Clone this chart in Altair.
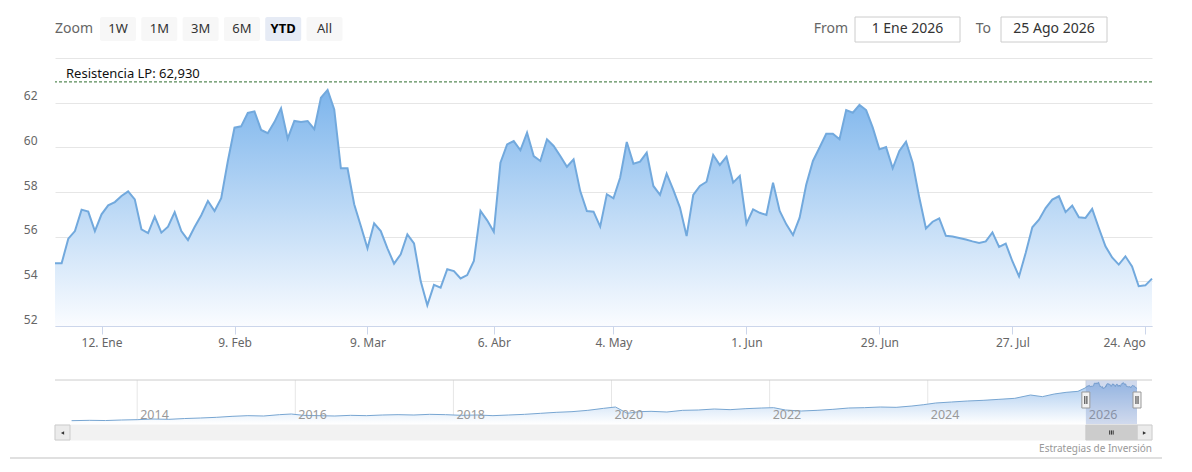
import altair as alt
import pandas as pd

FONT = "Noto Sans"

# ---------------- data ----------------
values = [
    54.81, 54.81, 55.91, 56.25, 57.21, 57.12, 56.25, 57.00, 57.40, 57.55,
    57.82, 58.03, 57.67, 56.33, 56.16, 56.90, 56.18, 56.45, 57.10, 56.25,
    55.85, 56.43, 56.96, 57.60, 57.15, 57.72, 59.39, 60.88, 60.94, 61.54,
    61.61, 60.78, 60.63, 61.13, 61.75, 60.39, 61.18, 61.13, 61.18, 60.81,
    62.22, 62.57, 61.70, 59.06, 59.06, 57.45, 56.48, 55.48, 56.60, 56.25,
    55.48, 54.79, 55.21, 56.10, 55.70, 54.01, 52.93, 53.84, 53.72, 54.54,
    54.46, 54.13, 54.28, 54.91, 57.15, 56.73, 56.22, 59.31, 60.13, 60.28,
    59.87, 60.66, 59.61, 59.39, 60.36, 60.06, 59.61, 59.13, 59.46, 58.04,
    57.15, 57.12, 56.45, 57.90, 57.72, 58.64, 60.24, 59.27, 59.36, 59.76,
    58.27, 57.87, 58.82, 58.09, 57.30, 56.03, 57.87, 58.27, 58.46, 59.66,
    59.21, 59.58, 58.42, 58.72, 56.58, 57.22, 57.07, 56.97, 58.42, 57.15,
    56.55, 56.07, 56.85, 58.34, 59.39, 59.99, 60.61, 60.61, 60.36, 61.67,
    61.55, 61.90, 61.67, 60.88, 59.91, 60.01, 59.06, 59.84, 60.25, 59.31,
    57.75, 56.37, 56.67, 56.82, 56.04, 56.01, 55.94, 55.87, 55.79, 55.72,
    55.79, 56.19, 55.54, 55.69, 54.90, 54.22, 55.27, 56.42, 56.76, 57.28,
    57.66, 57.81, 57.10, 57.39, 56.87, 56.84, 57.24, 56.39, 55.57, 55.07,
    54.75, 55.12, 54.67, 53.78, 53.82, 54.12,
]
tick_idx = [7, 27, 47, 66, 84, 104, 124, 144, 164]
tick_labels = ["12. Ene", "9. Feb", "9. Mar", "6. Abr", "4. May",
               "1. Jun", "29. Jun", "27. Jul", "24. Ago"]
y_ticks = [52, 54, 56, 58, 60, 62, 64]
y_min, y_max = 52, 64
resistance = 62.930
resistance_name = "Resistencia LP"

zoom_label = "Zoom"
zoom_buttons = ["1W", "1M", "3M", "6M", "YTD", "All"]
selected_button = "YTD"
from_label, to_label = "From", "To"
from_date = "1 Ene 2026"
to_date = "25 Ago 2026"

nav_years = [
    2013.17, 2013.4, 2013.6, 2013.8, 2014.0, 2014.2, 2014.4, 2014.6, 2014.8,
    2015.0, 2015.2, 2015.4, 2015.6, 2015.8, 2015.95, 2016.1, 2016.3, 2016.5,
    2016.7, 2016.9, 2017.1, 2017.3, 2017.5, 2017.7, 2017.9, 2018.1, 2018.3,
    2018.5, 2018.7, 2018.9, 2019.1, 2019.3, 2019.5, 2019.7, 2019.9, 2020.05,
    2020.2, 2020.35, 2020.5, 2020.7, 2020.9, 2021.1, 2021.3, 2021.5, 2021.7,
    2021.9, 2022.05, 2022.2, 2022.4, 2022.6, 2022.8, 2023.0, 2023.2, 2023.4,
    2023.6, 2023.8, 2023.95, 2024.1, 2024.3, 2024.5, 2024.7, 2024.9, 2025.1,
    2025.3, 2025.45, 2025.6, 2025.75, 2025.9, 2025.99,
]
nav_values = [
    5.0, 5.5, 5.2, 6.0, 6.5, 7.5, 7.0, 8.2, 9.0,
    10.0, 11.5, 12.5, 12.0, 14.0, 15.0, 13.0, 12.5, 12.0,
    13.0, 12.5, 13.5, 14.0, 13.5, 14.5, 14.0, 13.0, 13.5,
    12.5, 13.5, 14.5, 16.0, 17.5, 18.5, 20.5, 23.5, 25.5,
    16.0, 18.5, 19.0, 18.0, 20.5, 21.0, 22.5, 21.5, 23.0,
    24.0, 24.5, 21.0, 19.5, 20.5, 22.0, 24.0, 24.5, 25.5,
    25.0, 27.0, 29.0, 31.5, 33.0, 34.5, 35.5, 37.0, 38.5,
    43.5, 41.0, 45.0, 47.5, 49.0, 54.0,
]
nav_year_ticks = [2014, 2016, 2018, 2020, 2022, 2024, 2026]
ytd_start, ytd_end = 2026.0, 2026.647
nav_domain = [2013.15, ytd_end]
credit = "Estrategias de Inversión"

# ---------------- layout (px, relative to main plot origin) ----------------
W, H = 1097, 268
NAV_L, NAV_R = 15, 1082
NAV_TOP, NAV_BOT = 322, 366
SB_TOP, SB_BOT = 367, 383

one = pd.DataFrame({"a": [0]})

# ---------------- main chart ----------------
main_df = pd.DataFrame({"i": list(range(len(values))), "v": values})
xs = alt.Scale(domain=[0, len(values) - 1], nice=False, zero=False)
ys = alt.Scale(domain=[y_min, y_max], nice=False, zero=False)

labels_js = "[" + ",".join("'" + s + "'" for s in tick_labels) + "]"
idx_js = "[" + ",".join(str(i) for i in tick_idx) + "]"
x_axis = alt.Axis(
    values=tick_idx, labelExpr=f"{labels_js}[indexof({idx_js}, datum.value)]",
    grid=False, domainColor="#ccd6eb", tickColor="#ccd6eb", tickSize=8,
    labelPadding=3, labelColor="#666666", labelFontSize=12, title=None,
    labelFlush=9, labelOverlap=False,
)
y_axis = alt.Axis(
    values=y_ticks, labelExpr=f"datum.value == {y_max} ? '' : datum.label",
    grid=True, gridColor="#e6e6e6", domain=False, ticks=False, tickSize=0,
    labelPadding=18, labelBaseline="bottom", labelColor="#666666",
    labelFontSize=12, title=None,
)
x_enc = alt.X("i:Q", scale=xs, axis=x_axis)
y_enc = alt.Y("v:Q", scale=ys, axis=y_axis)

grad_main = {
    "gradient": "linear", "x1": 0, "x2": 0, "y1": 0, "y2": 1,
    "stops": [{"offset": 0, "color": "#7db5ec"},
              {"offset": 1, "color": "#fafcff"}],
}
area = alt.Chart(main_df).mark_area(color=grad_main).encode(
    x=x_enc, y=y_enc, y2=alt.datum(y_min))
line = alt.Chart(main_df).mark_line(color="#72a9dd", strokeWidth=2).encode(
    x=x_enc, y=y_enc)

res_df = pd.DataFrame({
    "r": [resistance],
    "lab": [f"{resistance_name}: {resistance:.3f}".replace(".", ",")],
})
res_y = alt.Y("r:Q", scale=ys, axis=y_axis)
res_rule = alt.Chart(res_df).mark_rule(
    color="#2f6e2f", strokeDash=[3, 2], strokeWidth=1).encode(y=res_y)
res_text = alt.Chart(res_df).mark_text(
    align="left", baseline="alphabetic", dy=-4, fontSize=13, color="#111111"
).encode(x=alt.value(11), y=res_y, text="lab:N")

main_layer = alt.layer(area, line, res_rule, res_text)

# ---------------- navigator ----------------
ytd_years = [ytd_start + (ytd_end - ytd_start) * k / (len(values) - 1)
             for k in range(len(values))]
nav_df = pd.DataFrame({"t": nav_years + ytd_years, "n": nav_values + values})
nxs = alt.Scale(domain=nav_domain, range=[NAV_L, NAV_R], nice=False, zero=False)
nys = alt.Scale(domain=[0, 66], range=[NAV_BOT, NAV_TOP], nice=False, zero=False)
nx = alt.X("t:Q", scale=nxs, axis=None)
ny = alt.Y("n:Q", scale=nys, axis=None)

grad_nav = {
    "gradient": "linear", "x1": 0, "x2": 0, "y1": 0, "y2": 1,
    "stops": [{"offset": 0, "color": "#a9caef"},
              {"offset": 1, "color": "#ffffff"}],
}
yr_df = pd.DataFrame({"t": nav_year_ticks, "lab": [str(y) for y in nav_year_ticks]})
nav_grid = alt.Chart(yr_df).mark_rule(color="#e6e6e6").encode(
    x=nx, y=alt.value(NAV_TOP), y2=alt.value(NAV_BOT))
nav_area = alt.Chart(nav_df).mark_area(color=grad_nav).encode(
    x=nx, y=ny, y2=alt.datum(0))
nav_line = alt.Chart(nav_df).mark_line(color="#78a6d2", strokeWidth=1).encode(
    x=nx, y=ny)
nav_labels = alt.Chart(yr_df).mark_text(
    align="left", baseline="middle", dx=3, fontSize=12.5, color="#999999"
).encode(x=nx, y=alt.value(357), text="lab:N")

rng_df = pd.DataFrame({"t": [ytd_start], "t2": [ytd_end]})
mask = alt.Chart(rng_df).mark_rect(color="#6685c2", opacity=0.3).encode(
    x=nx, x2="t2:Q", y=alt.value(NAV_TOP), y2=alt.value(NAV_BOT))
thumb = alt.Chart(rng_df).mark_rect(fill="#cccccc", stroke="#cccccc").encode(
    x=nx, x2="t2:Q", y=alt.value(SB_TOP), y2=alt.value(SB_BOT - 1))
thumb_grip = alt.Chart(rng_df).transform_calculate(
    m="(datum.t + datum.t2) / 2"
).mark_point(
    shape="M-0.25,-0.3V0.3M0,-0.3V0.3M0.25,-0.3V0.3", size=196, filled=False,
    stroke="#333333", strokeWidth=1, opacity=1,
).encode(x=alt.X("m:Q", scale=nxs, axis=None), y=alt.value((SB_TOP + SB_BOT) / 2 - 0.5))

hd_df = pd.DataFrame({"t": [ytd_start, ytd_end]})
handles = alt.Chart(hd_df).mark_point(
    shape="M-0.5,-1H0.5V1H-0.5Z", size=256, filled=True, fill="#f2f2f2",
    stroke="#999999", strokeWidth=1, opacity=1,
).encode(x=nx, y=alt.value(342))
handle_grip = alt.Chart(hd_df).mark_point(
    shape="M-0.13,-0.5V0.5M0.13,-0.5V0.5", size=256, filled=False,
    stroke="#333333", strokeWidth=1, opacity=1,
).encode(x=nx, y=alt.value(342))

outline = alt.Chart(one).mark_rule(color="#cccccc").encode(
    x=alt.value(0), x2=alt.value(W), y=alt.value(NAV_TOP))

nav_layer = alt.layer(nav_grid, nav_area, nav_line, nav_labels, mask, outline,
                      handles, handle_grip, thumb, thumb_grip)

# ---------------- UI: range selector, inputs, scrollbar, credits ----------------
btn_df = pd.DataFrame({"label": zoom_buttons, "k": list(range(len(zoom_buttons)))})
btn_base = alt.Chart(btn_df).transform_calculate(
    bx="45 + datum.k * 41.3", bx2="datum.bx + 36", bc="datum.bx + 18")
buttons = btn_base.mark_rect(cornerRadius=2).encode(
    x=alt.X("bx:Q", scale=None), x2="bx2:Q",
    y=alt.value(-41), y2=alt.value(-17),
    fill=alt.condition(alt.datum.label == selected_button,
                       alt.value("#e6ebf5"), alt.value("#f7f7f7")),
)
btn_text = btn_base.transform_filter(alt.datum.label != selected_button).mark_text(
    fontSize=13, color="#333333", baseline="middle"
).encode(x=alt.X("bc:Q", scale=None), y=alt.value(-29), text="label:N")
btn_text_sel = btn_base.transform_filter(alt.datum.label == selected_button).mark_text(
    fontSize=13, color="#000000", fontWeight="bold", baseline="middle"
).encode(x=alt.X("bc:Q", scale=None), y=alt.value(-29), text="label:N")

zoom_txt = alt.Chart(one).mark_text(
    align="left", baseline="middle", fontSize=14, color="#666666"
).encode(x=alt.value(0), y=alt.value(-29), text=alt.value(zoom_label))

from_txt = alt.Chart(one).mark_text(
    align="right", baseline="middle", fontSize=14, color="#666666"
).encode(x=alt.value(793), y=alt.value(-29), text=alt.value(from_label))
to_txt = alt.Chart(one).mark_text(
    align="right", baseline="middle", fontSize=14, color="#666666"
).encode(x=alt.value(936), y=alt.value(-29), text=alt.value(to_label))
from_box = alt.Chart(one).mark_rect(fill="#ffffff", stroke="#cccccc").encode(
    x=alt.value(800), x2=alt.value(905), y=alt.value(-41), y2=alt.value(-16))
to_box = alt.Chart(one).mark_rect(fill="#ffffff", stroke="#cccccc").encode(
    x=alt.value(946), x2=alt.value(1052), y=alt.value(-41), y2=alt.value(-16))
from_val = alt.Chart(one).mark_text(
    align="center", baseline="middle", fontSize=14, color="#333333"
).encode(x=alt.value(852.5), y=alt.value(-29), text=alt.value(from_date))
to_val = alt.Chart(one).mark_text(
    align="center", baseline="middle", fontSize=14, color="#333333"
).encode(x=alt.value(999), y=alt.value(-29), text=alt.value(to_date))

sb_track = alt.Chart(one).mark_rect(fill="#f2f2f2", stroke="#f2f2f2").encode(
    x=alt.value(0), x2=alt.value(W), y=alt.value(SB_TOP), y2=alt.value(SB_BOT - 1))
sb_left = alt.Chart(one).mark_rect(fill="#ebebeb", stroke="#cccccc").encode(
    x=alt.value(0), x2=alt.value(15), y=alt.value(SB_TOP), y2=alt.value(SB_BOT - 1))
sb_right = alt.Chart(one).mark_rect(fill="#ebebeb", stroke="#cccccc").encode(
    x=alt.value(W - 15), x2=alt.value(W), y=alt.value(SB_TOP), y2=alt.value(SB_BOT - 1))
arr_l = alt.Chart(one).mark_point(shape="triangle-left", size=14, filled=True,
                                  color="#333333", opacity=1).encode(
    x=alt.value(7.5), y=alt.value((SB_TOP + SB_BOT) / 2))
arr_r = alt.Chart(one).mark_point(shape="triangle-right", size=14, filled=True,
                                  color="#333333", opacity=1).encode(
    x=alt.value(W - 7.5), y=alt.value((SB_TOP + SB_BOT) / 2))

credits = alt.Chart(one).mark_text(
    align="right", baseline="middle", fontSize=10, color="#999999"
).encode(x=alt.value(W), y=alt.value(391), text=alt.value(credit))
bottom_line = alt.Chart(one).mark_rule(color="#d6d6d6", strokeWidth=1.5).encode(
    x=alt.value(-45), x2=alt.value(W + 10), y=alt.value(400))

ui_layer = alt.layer(buttons, btn_text, btn_text_sel, zoom_txt, from_txt, to_txt,
                     from_box, to_box, from_val, to_val, sb_track, sb_left,
                     sb_right, arr_l, arr_r, credits, bottom_line)

chart = alt.layer(ui_layer, nav_layer, main_layer).resolve_scale(
    x="independent", y="independent"
).properties(
    width=W, height=H,
    autosize=alt.AutoSizeParams(type="none"),
    padding={"left": 47, "top": 50, "right": 32, "bottom": 138},
).configure(font=FONT).configure_view(stroke=None)

chart.save("out.html", embed_options={"renderer": "svg", "actions": False})
